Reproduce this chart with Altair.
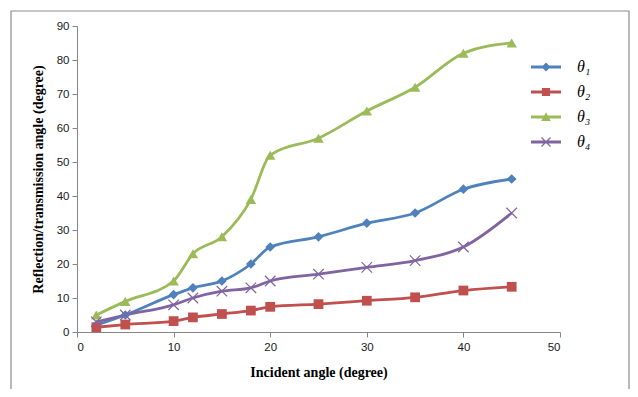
import altair as alt
import pandas as pd

# ---- data ----
angles = [2, 5, 10, 12, 15, 18, 20, 25, 30, 35, 40, 45]
theta1 = [2, 5, 11, 13, 15, 20, 25, 28, 32, 35, 42, 45]
theta2 = [1.4, 2.2, 3.2, 4.3, 5.3, 6.3, 7.4, 8.2, 9.2, 10.2, 12.2, 13.3]
theta3 = [5, 9, 15, 23, 28, 39, 52, 57, 65, 72, 82, 85]
theta4 = [3, 5, 8, 10, 12, 13, 15, 17, 19, 21, 25, 35]
series_names = ["θ₁", "θ₂", "θ₃", "θ₄"]
x_ticks = [0, 10, 20, 30, 40, 50]
y_ticks = [0, 10, 20, 30, 40, 50, 60, 70, 80, 90]

colors = ["#4F81BD", "#C0504D", "#9BBB59", "#8064A2"]

rows = []
for name, vals in zip(series_names, [theta1, theta2, theta3, theta4]):
    for a, v in zip(angles, vals):
        rows.append({"angle": a, "value": v, "series": name})
df = pd.DataFrame(rows)

AX = "#868686"
x_enc = alt.X(
    "angle:Q",
    scale=alt.Scale(domain=[0, 50], nice=False),
    axis=alt.Axis(
        values=x_ticks, grid=False, title="Incident angle (degree)",
        titleFont="Liberation Serif", titleFontSize=14, titleFontWeight="bold",
        titleColor="#000000", titleBaseline="middle", titleY=40.5,
        labelFont="Liberation Sans", labelFontSize=11.5, labelColor="#1a1a1a",
        labelPadding=4, tickSize=5, tickColor=AX, domainColor=AX,
    ),
)
y_enc = alt.Y(
    "value:Q",
    scale=alt.Scale(domain=[0, 90], nice=False),
    axis=alt.Axis(
        values=y_ticks, grid=False,
        title="Reflection/transmission angle (degree)",
        titleFont="Liberation Serif", titleFontSize=14, titleFontWeight="bold",
        titleColor="#000000", titleAngle=-90, titleAlign="center",
        titleBaseline="middle", titleX=-38.5, titleY=153,
        labelFont="Liberation Sans", labelFontSize=11.5, labelColor="#1a1a1a",
        labelPadding=3, tickSize=5, tickColor=AX, domainColor=AX,
    ),
)

cscale = alt.Scale(domain=series_names, range=colors)
base = alt.Chart(df)

# legend symbols: line + marker as one path (units: +-1 = 15px)
line_part = "M-1,-0.095L1,-0.095L1,0.095L-1,0.095Z"
legend_paths = [
    line_part + "M0,-0.3L0.3,0L0,0.3L-0.3,0Z",
    line_part + "M-0.27,-0.27L0.27,-0.27L0.27,0.27L-0.27,0.27Z",
    line_part + "M0,-0.32L0.32,0.26L-0.32,0.26Z",
    line_part + "M-0.272,-0.328L0.328,0.272L0.272,0.328L-0.328,-0.272Z"
    "M-0.328,0.272L0.272,-0.328L0.328,-0.272L-0.272,0.328Z",
]
leg = alt.Legend(
    title=None, orient="none", legendX=454, legendY=26, padding=0,
    symbolSize=900, symbolStrokeWidth=0, symbolOpacity=1,
    labelOffset=16, rowPadding=2,
    labelFont="Liberation Serif", labelFontStyle="italic", labelFontSize=16,
    labelColor="#000000",
)
# invisible layer that only carries the legend
legend_layer = (
    base.mark_point(filled=True)
    .encode(
        x=x_enc, y=y_enc,
        opacity=alt.value(0),
        color=alt.Color("series:N", scale=cscale, legend=leg),
        shape=alt.Shape("series:N", scale=alt.Scale(domain=series_names, range=legend_paths), legend=leg),
    )
)

marker_specs = [
    dict(shape="diamond", filled=True, size=95),
    dict(shape="square", filled=True, size=95),
    dict(shape="triangle-up", filled=True, size=110),
    dict(shape="M-1,-1L1,1M-1,1L1,-1", filled=False, size=110, strokeWidth=1.2),
]
line_layers = []
point_layers = []
for name, col, spec in zip(series_names, colors, marker_specs):
    sub = base.transform_filter(alt.datum.series == name)
    line_layers.append(
        sub.mark_line(interpolate="monotone", strokeWidth=2.8, color=col)
        .encode(x=x_enc, y=y_enc)
    )
    point_layers.append(
        sub.mark_point(color=col, opacity=1, **spec).encode(x=x_enc, y=y_enc)
    )

frame = alt.Chart(pd.DataFrame({"k": [0]})).mark_rect(
    fillOpacity=0, stroke="#8c8c8c", strokeWidth=1.2
).encode(
    x=alt.value(-66), x2=alt.value(552), y=alt.value(-15), y2=alt.value(400)
)

chart = alt.layer(frame, legend_layer, *line_layers, *point_layers).properties(
    width=483, height=306,
    autosize=alt.AutoSizeParams(type="none"),
    padding={"left": 69, "top": 18, "right": 70, "bottom": 57},
).configure_view(stroke=None)

chart.save("out.html", embed_options={"renderer": "svg", "actions": False})
